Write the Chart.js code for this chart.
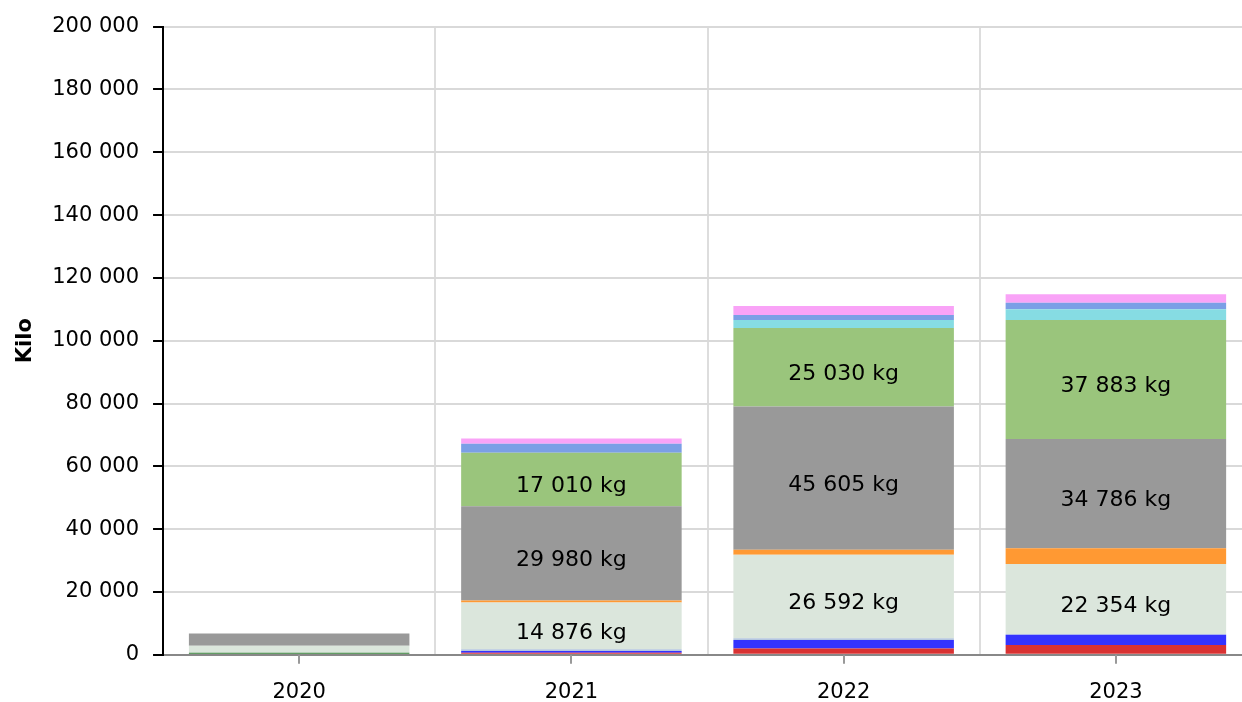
<!DOCTYPE html>
<html>
<head>
<meta charset="utf-8">
<script src="https://cdn.jsdelivr.net/npm/chart.js@4/dist/chart.umd.min.js"></script>
<style>
  html, body { margin: 0; padding: 0; background: #fff; overflow: hidden; }
  #wrap { width: 1252px; height: 702px; }
</style>
</head>
<body>
<div id="wrap"><canvas id="chart"></canvas></div>
<script>
const years = ['2020', '2021', '2022', '2023'];

// kg per segment, bottom to top of each stack
const darkGreen = [640, 0, 0, 0];
const red = [0, 650, 2000, 3100];
const blue = [0, 550, 2750, 3300];
const steel = [0, 550, 500, 150];
const pale = [2230, 14876, 26592, 22354];
const orange = [0, 700, 1600, 5000];
const grey = [3900, 29980, 45605, 34786];
const green = [0, 17010, 25030, 37883];
const cyan = [0, 0, 2500, 3400];
const cornflower = [0, 2860, 1600, 2100];
const pink = [0, 1700, 2860, 2750];

const yTicks = [0, 20000, 40000, 60000, 80000, 100000, 120000, 140000, 160000, 180000, 200000];

const fmt = (v) => String(Math.round(v)).replace(/\B(?=(\d{3})+(?!\d))/g, ' ');

const FONT = 'DejaVu Sans, Verdana, sans-serif';

const mk = (data, color, labelled) => ({
  data,
  backgroundColor: color,
  borderWidth: 0,
  labelled: !!labelled,
});

// value labels in the big segments
const segmentLabels = {
  id: 'segmentLabels',
  afterDatasetsDraw(chart) {
    const ctx = chart.ctx;
    ctx.save();
    ctx.font = '22px ' + FONT;
    ctx.fillStyle = '#000';
    ctx.textAlign = 'center';
    ctx.textBaseline = 'middle';
    chart.data.datasets.forEach((ds, i) => {
      if (!ds.labelled) return;
      chart.getDatasetMeta(i).data.forEach((bar, j) => {
        const v = ds.data[j];
        if (v < 10000) return;
        const y = (bar.y + bar.base) / 2 + 7;
        ctx.fillText(fmt(v) + ' kg', bar.x, y);
      });
    });
    ctx.restore();
  }
};

// small tick marks under the category centres
const centreTicks = {
  id: 'centreTicks',
  afterDraw(chart) {
    const x = chart.scales.x;
    const ctx = chart.ctx;
    ctx.save();
    ctx.strokeStyle = '#999';
    ctx.lineWidth = 2;
    years.forEach((_, i) => {
      const px = Math.round(x.getPixelForTick(i));
      ctx.beginPath();
      ctx.moveTo(px, x.top);
      ctx.lineTo(px, x.top + 9);
      ctx.stroke();
    });
    ctx.restore();
  }
};

new Chart(document.getElementById('chart'), {
  type: 'bar',
  data: {
    labels: years,
    datasets: [
      mk(darkGreen, '#2e7d32'),
      mk(red, '#d93232'),
      mk(blue, '#3333ff'),
      mk(steel, '#b4c6df'),
      mk(pale, '#dbe6dc', true),
      mk(orange, '#ff9933'),
      mk(grey, '#999999', true),
      mk(green, '#9ac57c', true),
      mk(cyan, '#86dce3'),
      mk(cornflower, '#7b9fe6'),
      mk(pink, '#f9a3f7'),
    ]
  },
  options: {
    responsive: true,
    maintainAspectRatio: false,
    animation: false,
    layout: { padding: { top: 12, left: 13, right: 0, bottom: -28 } },
    plugins: {
      legend: { display: false },
      tooltip: { enabled: false },
    },
    datasets: {
      bar: { barPercentage: 0.81, categoryPercentage: 1 }
    },
    scales: {
      x: {
        stacked: true,
        grid: { offset: true, color: '#dddddd', lineWidth: 2, drawTicks: false },
        border: { color: '#888888', width: 2 },
        ticks: { color: '#000', font: { family: FONT, size: 21 }, padding: 25 },
      },
      y: {
        stacked: true,
        min: 0,
        max: 200000,
        afterBuildTicks: (axis) => { axis.ticks = yTicks.map((v) => ({ value: v })); },
        grid: { color: '#d9d9d9', lineWidth: 2, tickColor: '#000', tickLength: 10, tickWidth: 2 },
        border: { color: '#000', width: 2 },
        ticks: { color: '#000', font: { family: FONT, size: 21 }, padding: 14, callback: (v) => fmt(v) },
        title: { display: true, text: 'Kilo', color: '#000', font: { family: FONT, size: 21, weight: 'bold' }, padding: { top: 0, bottom: 0 } },
      }
    }
  },
  plugins: [segmentLabels, centreTicks]
});
</script>
</body>
</html>
